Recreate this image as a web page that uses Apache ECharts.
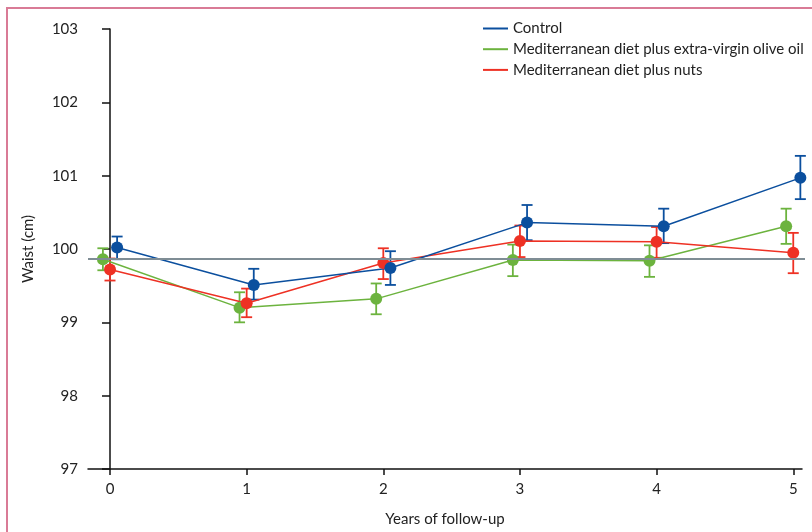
<!DOCTYPE html>
<html>
<head>
    <meta charset="utf-8"/>
    <title>Waist</title>
    <script src="https://cdn.jsdelivr.net/npm/echarts@6/dist/echarts.min.js"></script>
    <style>
        html, body { margin: 0; padding: 0; background: #fff; }
        #main { width: 812px; height: 532px; }
    </style>
</head>
<body>
<div id="main"></div>
<script>
    // data
    var years = [0, 1, 2, 3, 4, 5];
    var yTicks = [97, 98, 99, 100, 101, 102, 103];
    var baseline = 99.864;

    var controlMean = [100.02, 99.51, 99.74, 100.36, 100.31, 100.97];
    var controlLow  = [99.86, 99.31, 99.51, 100.12, 100.08, 100.68];
    var controlHigh = [100.17, 99.73, 99.97, 100.60, 100.55, 101.27];

    var oliveMean = [99.86, 99.20, 99.32, 99.85, 99.84, 100.31];
    var oliveLow  = [99.71, 99.00, 99.11, 99.63, 99.62, 100.07];
    var oliveHigh = [100.01, 99.41, 99.53, 100.06, 100.05, 100.55];

    var nutsMean = [99.72, 99.26, 99.81, 100.11, 100.10, 99.95];
    var nutsLow  = [99.57, 99.07, 99.59, 99.89, 99.88, 99.67];
    var nutsHigh = [99.87, 99.46, 100.01, 100.32, 100.30, 100.22];

    var groups = [
        {name: 'Mediterranean diet plus extra-virgin olive oil', color: '#6cb33e', shift: -0.052, mean: oliveMean, low: oliveLow, high: oliveHigh},
        {name: 'Mediterranean diet plus nuts', color: '#ee3124', shift: 0, mean: nutsMean, low: nutsLow, high: nutsHigh},
        {name: 'Control', color: '#0b4f9e', shift: 0.052, mean: controlMean, low: controlLow, high: controlHigh}
    ];

    var font = 'Lato';
    var fs = 15;
    var series = [];
    groups.forEach(function (g) {
        var bars = years.map(function (x, i) { return [x + g.shift, g.low[i], g.high[i]]; });
        var pts = years.map(function (x, i) { return [x + g.shift, g.mean[i]]; });
        series.push({
            type: 'custom',
            name: g.name + ' err',
            data: bars,
            encode: {x: 0, y: [1, 2]},
            renderItem: function (params, api) {
                var lo = api.coord([api.value(0), api.value(1)]);
                var hi = api.coord([api.value(0), api.value(2)]);
                var w = 5.5;
                var st = {stroke: g.color, lineWidth: 1.8};
                return {
                    type: 'group',
                    children: [
                        {type: 'line', shape: {x1: lo[0], y1: lo[1], x2: hi[0], y2: hi[1]}, style: st},
                        {type: 'line', shape: {x1: lo[0] - w, y1: lo[1], x2: lo[0] + w, y2: lo[1]}, style: st},
                        {type: 'line', shape: {x1: hi[0] - w, y1: hi[1], x2: hi[0] + w, y2: hi[1]}, style: st}
                    ]
                };
            }
        });
        series.push({
            type: 'line',
            name: g.name,
            data: pts,
            color: g.color,
            symbol: 'circle',
            symbolSize: 12,
            lineStyle: {width: 1.5, color: g.color},
            itemStyle: {color: g.color}
        });
    });
    // horizontal reference line
    series[1].markLine = {
        silent: true,
        symbol: 'none',
        label: {show: false},
        lineStyle: {color: '#7f8d95', width: 2, type: 'solid'},
        data: [[{x: 88, yAxis: baseline}, {x: 805, yAxis: baseline}]]
    };

    var myChart = echarts.init(document.getElementById('main'));
    var option = {
        animation: false,
        backgroundColor: '#fff',
        graphic: [{
            type: 'rect',
            shape: {x: 7, y: 8, width: 900, height: 600},
            style: {fill: 'none', stroke: '#d97b96', lineWidth: 2}
        }],
        legend: {
            data: ['Control', 'Mediterranean diet plus extra-virgin olive oil', 'Mediterranean diet plus nuts'],
            orient: 'vertical',
            left: 478,
            top: 16,
            icon: 'rect',
            itemWidth: 25,
            itemHeight: 2,
            itemGap: 5.7,
            textStyle: {fontFamily: font, fontSize: fs, color: '#222', lineHeight: 15}
        },
        grid: {left: 88, right: 10, top: 29, bottom: 61, containLabel: false},
        xAxis: {
            type: 'value',
            min: -0.161,
            max: 5.064,
            name: 'Years of follow-up',
            nameLocation: 'middle',
            nameGap: 43,
            nameTextStyle: {fontFamily: font, fontSize: fs, color: '#222'},
            splitLine: {show: false},
            axisLine: {lineStyle: {color: '#111', width: 1.5}},
            axisTick: {show: true, length: 6, customValues: years, lineStyle: {color: '#111', width: 1.5}},
            axisLabel: {customValues: years, margin: 13, fontFamily: font, fontSize: fs, color: '#222'}
        },
        yAxis: {
            type: 'value',
            min: 97,
            max: 103,
            interval: 1,
            name: 'Waist (cm)',
            nameLocation: 'middle',
            nameGap: 52,
            nameRotate: 90,
            nameTextStyle: {fontFamily: font, fontSize: fs, color: '#222'},
            splitLine: {show: false},
            axisLine: {show: true, lineStyle: {color: '#111', width: 1.5}},
            axisTick: {show: true, length: 8, lineStyle: {color: '#111', width: 1.5}},
            axisLabel: {margin: 10, fontFamily: font, fontSize: fs, color: '#222',
                formatter: function (v) { return yTicks.indexOf(v) >= 0 ? String(v) : ''; }}
        },
        series: series
    };
    myChart.setOption(option);
</script>
</body>
</html>
